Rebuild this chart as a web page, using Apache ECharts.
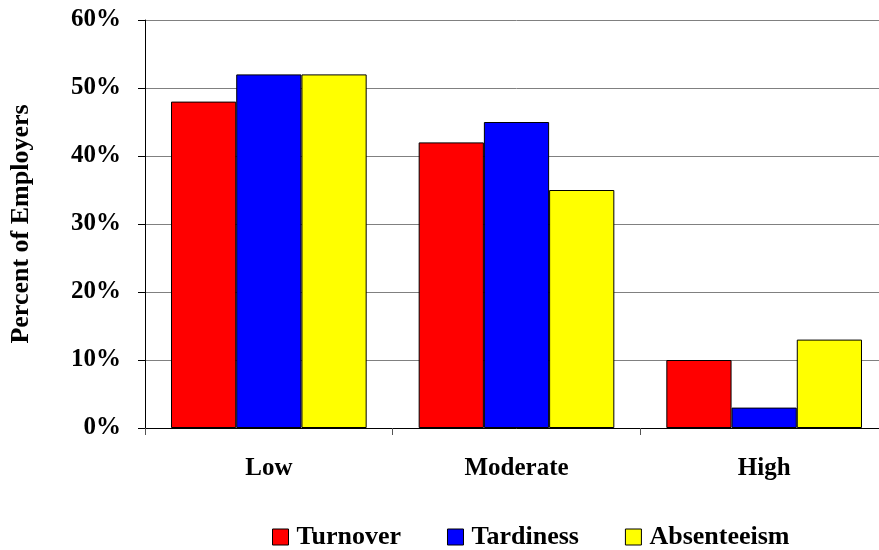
<!DOCTYPE html>
<html><head><meta charset="utf-8">
<script src="https://cdn.jsdelivr.net/npm/echarts@6/dist/echarts.min.js"></script>
<style>html,body{margin:0;padding:0;background:#fff;overflow:hidden;width:879px;height:550px}#c{width:888px;height:550px}</style>
</head><body><div id="c"></div>
<script>
const categories = ['Low', 'Moderate', 'High'];
const turnover = [48, 42, 10];
const tardiness = [52, 45, 3];
const absenteeism = [52, 35, 13];
const yTicks = [0, 10, 20, 30, 40, 50, 60];

const font = 'Liberation Serif';
const chart = echarts.init(document.getElementById('c'));
function bar(name, data, color) {
  return { name, type: 'bar', data, barGap: 0, barCategoryGap: '21%',
    itemStyle: { color, borderColor: '#000', borderWidth: 1 } };
}
chart.setOption({
  animation: false,
  textStyle: { fontFamily: font },
  grid: { left: 144, top: 20, right: 0, bottom: 122 },
  legend: {
    top: 519, left: 267, itemWidth: 16, itemHeight: 16, itemGap: 46,
    icon: 'rect',
    textStyle: { fontFamily: font, fontWeight: 'bold', fontSize: 26, color: '#000', padding: [0, 0, 0, 3] },
    itemStyle: { borderColor: '#000', borderWidth: 1 }
  },
  xAxis: {
    type: 'category', data: categories,
    axisLine: { lineStyle: { color: '#000', width: 1 } },
    axisTick: { show: true, length: 7, lineStyle: { color: '#555' } },
    axisLabel: { fontFamily: font, fontWeight: 'bold', fontSize: 25, color: '#000', margin: 28 }
  },
  yAxis: {
    type: 'value', min: 0, max: 60, interval: 10,
    name: 'Percent of Employers', nameLocation: 'middle', nameGap: 111, nameRotate: 90,
    nameTextStyle: { fontFamily: font, fontWeight: 'bold', fontSize: 26, color: '#000' },
    axisLine: { show: true, lineStyle: { color: '#000' } },
    axisTick: { show: true, length: 7, lineStyle: { color: '#000' } },
    splitLine: { lineStyle: { color: '#808080' } },
    axisLabel: { fontFamily: font, fontWeight: 'bold', fontSize: 25, color: '#000', margin: 24,
      formatter: v => yTicks.includes(v) ? v + '%' : '' }
  },
  series: [
    bar('Turnover', turnover, '#ff0000'),
    bar('Tardiness', tardiness, '#0000ff'),
    bar('Absenteeism', absenteeism, '#ffff00')
  ]
});
</script></body></html>
